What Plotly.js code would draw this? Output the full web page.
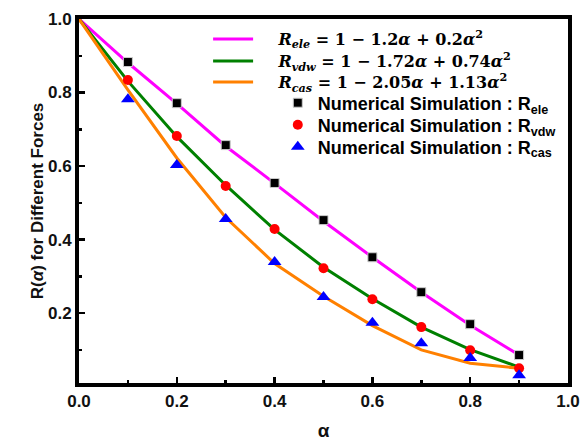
<!DOCTYPE html>
<html><head><meta charset="utf-8">
<script src="https://cdn.plot.ly/plotly-3.0.1.min.js"></script>
<style>body{margin:0;padding:0;background:#fff}#chart{width:584px;height:441px}</style>
</head><body><div id="chart"></div>
<script>
// fitted curve points
const alphaFit = [0, 0.1, 0.2, 0.3, 0.4, 0.5, 0.6, 0.7, 0.8, 0.9];
const fitEle = [1.0, 0.881, 0.770, 0.654, 0.553, 0.450, 0.352, 0.257, 0.167, 0.086];
const fitVdw = [1.0, 0.831, 0.680, 0.548, 0.427, 0.325, 0.239, 0.162, 0.101, 0.053];
const fitCas = [1.0, 0.807, 0.622, 0.460, 0.335, 0.246, 0.166, 0.100, 0.064, 0.050];
// numerical simulation points
const alphaSim = [0.1, 0.2, 0.3, 0.4, 0.5, 0.6, 0.7, 0.8, 0.9];
const simEle = [0.883, 0.771, 0.657, 0.554, 0.453, 0.352, 0.257, 0.170, 0.086];
const simVdw = [0.834, 0.682, 0.546, 0.429, 0.322, 0.238, 0.162, 0.099, 0.050];
const simCas = [0.782, 0.603, 0.456, 0.339, 0.244, 0.174, 0.118, 0.078, 0.031];

const pad = "&nbsp;&nbsp;&nbsp;&nbsp;";
const fitNames = [
  pad + "<b><i>R</i><sub><i>ele</i></sub> = 1 − 1.2<i>α</i> + 0.2<i>α</i><sup>2</sup></b>",
  pad + "<b><i>R</i><sub><i>vdw</i></sub> = 1 − 1.72<i>α</i> + 0.74<i>α</i><sup>2</sup></b>",
  pad + "<b><i>R</i><sub><i>cas</i></sub> = 1 − 2.05<i>α</i> + 1.13<i>α</i><sup>2</sup></b>"
];
const simNames = [
  "<b>Numerical Simulation : R<sub>ele</sub></b>",
  "<b>Numerical Simulation : R<sub>vdw</sub></b>",
  "<b>Numerical Simulation : R<sub>cas</sub></b>"
];

const traces = [
  {x: alphaFit, y: fitEle, mode: 'lines', name: fitNames[0], line: {color: '#ff00ff', width: 3}, legend: 'legend'},
  {x: alphaFit, y: fitVdw, mode: 'lines', name: fitNames[1], line: {color: '#008000', width: 3}, legend: 'legend2'},
  {x: alphaFit, y: fitCas, mode: 'lines', name: fitNames[2], line: {color: '#ff8000', width: 3}, legend: 'legend3'},
  {x: alphaSim, y: simEle, mode: 'markers', name: simNames[0], marker: {symbol: 'square', color: '#000000', size: 9, line: {color: '#cccccc', width: 1}}, legend: 'legend4'},
  {x: alphaSim, y: simVdw, mode: 'markers', name: simNames[1], marker: {symbol: 'circle', color: '#ff0000', size: 10}, legend: 'legend5'},
  {x: alphaSim, y: simCas, mode: 'markers', name: simNames[2], marker: {symbol: 'triangle-up', color: '#0000ff', size: 12}, legend: 'legend6'}
];

const sans = 'Liberation Sans, Arial, sans-serif';
const tickFont = {family: sans, size: 17, color: '#111111', weight: 'bold'};
const lineLegFont = {family: 'DejaVu Serif, serif', size: 16, color: '#000'};
const mkLegFont = {family: sans, size: 18, color: '#000'};
function leg(x, y, font, extra) {
  return Object.assign({x: x, y: y, xanchor: 'left', yanchor: 'middle',
    bgcolor: 'rgba(0,0,0,0)', borderwidth: 0, font: font}, extra || {});
}
const layout = {
  width: 584, height: 441,
  margin: {l: 79, r: 16, t: 19, b: 58},
  paper_bgcolor: '#ffffff', plot_bgcolor: '#ffffff',
  showlegend: true,
  xaxis: {
    range: [0, 1.0], dtick: 0.2, tick0: 0, tickformat: '.1f',
    showgrid: false, zeroline: false,
    showline: true, linecolor: '#000', linewidth: 4, mirror: true,
    ticks: 'inside', ticklen: 6, tickwidth: 2.5, tickcolor: '#000',
    minor: {dtick: 0.1, tick0: 0, ticks: 'inside', ticklen: 3, tickwidth: 2.5, tickcolor: '#000'},
    tickfont: tickFont,
    title: {text: '<b>α</b>', font: {family: sans, size: 19, color: '#111'}, standoff: 16}
  },
  yaxis: {
    range: [0.01, 1.0], dtick: 0.2, tick0: 0, tickformat: '.1f',
    showgrid: false, zeroline: false,
    showline: true, linecolor: '#000', linewidth: 4, mirror: true,
    ticks: 'inside', ticklen: 6, tickwidth: 2.5, tickcolor: '#000',
    minor: {dtick: 0.1, tick0: 0, ticks: 'inside', ticklen: 3, tickwidth: 2.5, tickcolor: '#000'},
    tickfont: tickFont,
    title: {text: '<b>R(<i>α</i>) for Different Forces</b>', font: {family: sans, size: 17, color: '#111'}, standoff: 1}
  },
  legend:  leg(0.264, 0.9451, lineLegFont, {itemwidth: 40}),
  legend2: leg(0.264, 0.8846, lineLegFont, {itemwidth: 40}),
  legend3: leg(0.264, 0.8269, lineLegFont, {itemwidth: 40}),
  legend4: leg(0.4065, 0.7692, mkLegFont),
  legend5: leg(0.4065, 0.7088, mkLegFont),
  legend6: leg(0.4065, 0.6484, mkLegFont)
};

Plotly.newPlot('chart', traces, layout, {displayModeBar: false, staticPlot: true});
</script></body></html>
